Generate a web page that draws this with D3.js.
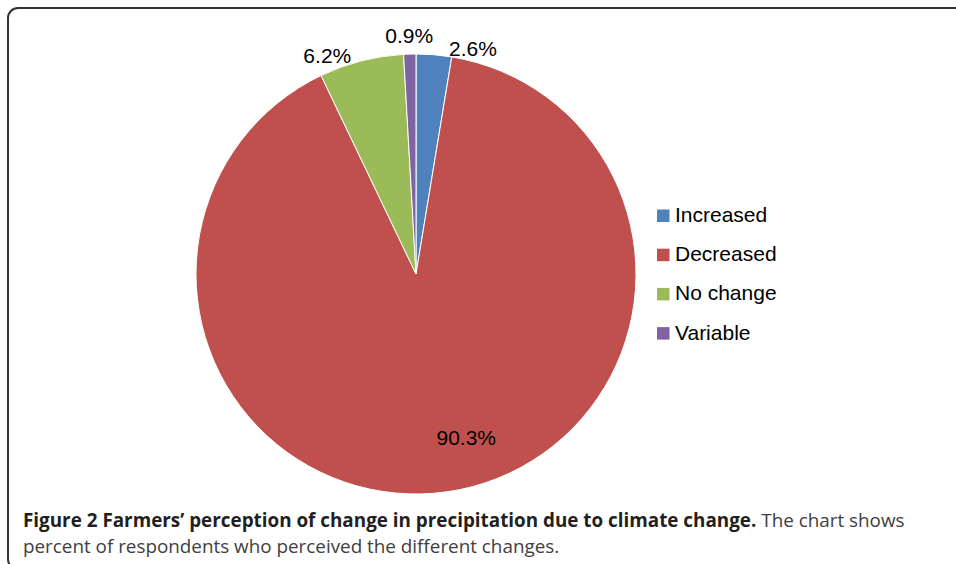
<!DOCTYPE html>
<html>
<head>
<meta charset="utf-8">
<script src="https://cdn.jsdelivr.net/npm/d3@7"></script>
<style>
  html, body { margin: 0; padding: 0; background: #fff; }
  svg { display: block; }
</style>
</head>
<body>
<svg id="chart" width="956" height="564"></svg>
<script>
// data
const categories = ['Increased', 'Decreased', 'No change', 'Variable']
const percents = [2.6, 90.3, 6.2, 0.9]
const colors = ['#4F81BD', '#C0504D', '#9BBB59', '#8064A2']

const captionBold = 'Figure 2 Farmers\u2019 perception of change in precipitation due to climate change.'
const captionRest = ' The chart shows'
const captionLine2 = 'percent of respondents who perceived the different changes.'

const width = 956, height = 564
const cx = 416, cy = 274, radius = 220

const svg = d3.select('#chart')

// frame round the figure (right and bottom run off the page)
svg.append('rect')
	.attr('x', 8).attr('y', 8)
	.attr('width', 1000).attr('height', 561)
	.attr('rx', 10).attr('ry', 10)
	.attr('fill', 'none')
	.attr('stroke', '#333')
	.attr('stroke-width', 2)

const pie = d3.pie().sort(null).value(d => d)
const arcs = pie(percents)

const arc = d3.arc().innerRadius(0).outerRadius(radius)

const g = svg.append('g').attr('transform', `translate(${cx},${cy})`)

g.selectAll('path')
	.data(arcs)
	.join('path')
		.attr('d', arc)
		.attr('fill', (d, i) => colors[i])
		.attr('stroke', '#fff')
		.attr('stroke-width', 1)

// labels: big slice inside, small ones outside end (nudged apart like Excel does)
const labelNudge = [[38, 6], [27, 0], [-31, 6], [0, 1]]
const inside = d3.arc().innerRadius(radius * 0.75).outerRadius(radius * 0.75)

g.selectAll('text.lbl')
	.data(arcs)
	.join('text')
		.attr('class', 'lbl')
		.attr('transform', (d, i) => {
			const mid = (d.startAngle + d.endAngle) / 2
			let x, y
			if (d.value > 50) {
				[x, y] = inside.centroid(d)
			} else {
				const r = d.value < 2 ? radius + 20 : radius + 12
				x = r * Math.sin(mid)
				y = -r * Math.cos(mid)
			}
			return `translate(${x + labelNudge[i][0]},${y + labelNudge[i][1]})`
		})
		.attr('text-anchor', 'middle')
		.attr('dy', '0.36em')
		.style('font-family', 'Liberation Sans, Arial, sans-serif')
		.style('font-size', '21px')
		.attr('fill', '#000')
		.text(d => d.value.toFixed(1) + '%')

// legend
const legend = svg.append('g').attr('transform', 'translate(657,222)')
const rows = legend.selectAll('g')
	.data(categories)
	.join('g')
		.attr('transform', (d, i) => `translate(0,${i * 39.2})`)

rows.append('rect')
	.attr('x', 0).attr('y', -12.5)
	.attr('width', 12.5).attr('height', 12.5)
	.attr('fill', (d, i) => colors[i])

rows.append('text')
	.attr('x', 18).attr('y', 0)
	.style('font-family', 'Liberation Sans, Arial, sans-serif')
	.style('font-size', '21px')
	.attr('fill', '#000')
	.text(d => d)

// caption
const cap = svg.append('text')
	.attr('x', 23).attr('y', 527)
	.style('font-family', 'Open Sans, sans-serif')
	.style('font-size', '18.85px')
cap.append('tspan')
	.attr('font-weight', 'bold')
	.attr('fill', '#231f20')
	.text(captionBold)
cap.append('tspan')
	.attr('fill', '#404040')
	.text(captionRest)

svg.append('text')
	.attr('x', 23).attr('y', 553)
	.style('font-family', 'Open Sans, sans-serif')
	.style('font-size', '18.85px')
	.attr('fill', '#404040')
	.text(captionLine2)
</script>
</body>
</html>
